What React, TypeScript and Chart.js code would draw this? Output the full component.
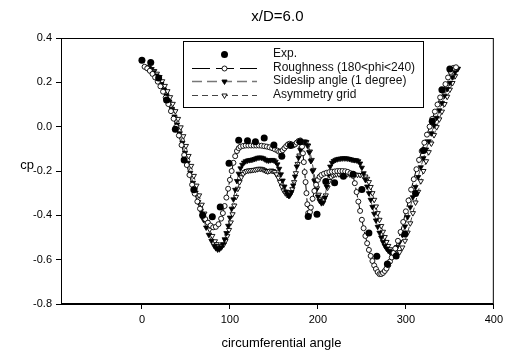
import React, { useEffect, useRef } from "react";
import { Chart, registerables } from "chart.js";

Chart.register(...registerables);

const FONT = "'Liberation Sans', Arial, Helvetica, sans-serif";

const chartTitle = "x/D=6.0";
const xTitle = "circumferential angle";
const yTitle = "cp";
const xTicks = [0, 100, 200, 300, 400];
const yTicks = [0.4, 0.2, 0.0, -0.2, -0.4, -0.6, -0.8];
const xRange = [-92, 400];
const yRange = [-0.8, 0.4];
const legendLabels = ["Exp.", "Roughness (180<phi<240)", "Sideslip angle (1 degree)", "Asymmetry grid"];

// [angle, cp]
const expData = [
  [0, 0.3], [10, 0.29], [19, 0.22], [28, 0.12], [38, -0.012], [48, -0.15], [59, -0.285], [69, -0.4],
  [80, -0.406], [89, -0.362], [99, -0.165], [110, -0.061], [120, -0.063], [129, -0.068], [139, -0.051],
  [150, -0.083], [159, -0.133], [169, -0.085], [180, -0.068], [189, -0.405], [199, -0.395], [209, -0.247],
  [219, -0.253], [229, -0.224], [240, -0.215], [250, -0.284], [258, -0.48], [267, -0.585], [279, -0.62],
  [289, -0.583], [299, -0.484], [311, -0.302], [320, -0.108], [330, 0.024], [341, 0.167], [350, 0.26],
];

const roughnessData = [
  [3, 0.27], [6, 0.263], [9, 0.252], [12, 0.238], [15, 0.222], [18, 0.203], [21, 0.182], [24, 0.158],
  [27, 0.131], [30, 0.102], [33, 0.07], [36, 0.036], [39, 0.0], [42, -0.04], [45, -0.083], [48, -0.128],
  [51, -0.173], [54, -0.218], [57, -0.262], [60, -0.302], [63, -0.338], [66, -0.37], [69, -0.396],
  [72, -0.417], [75, -0.433], [78, -0.446], [81, -0.454], [84, -0.452], [87, -0.44], [90, -0.415],
  [92, -0.39], [94, -0.358], [96, -0.32], [98, -0.28], [100, -0.24], [102, -0.2], [104, -0.163],
  [106, -0.133], [108, -0.11], [110, -0.097], [112, -0.09], [115, -0.087], [118, -0.085], [121, -0.085],
  [124, -0.085], [127, -0.085], [130, -0.085], [133, -0.085], [136, -0.086], [139, -0.088], [142, -0.09],
  [145, -0.093], [148, -0.097], [151, -0.102], [154, -0.108], [156, -0.113], [158, -0.113], [160, -0.106],
  [162, -0.097], [164, -0.088], [166, -0.08], [168, -0.077], [170, -0.08], [172, -0.084], [174, -0.08],
  [176, -0.072], [178, -0.065], [180, -0.062], [181, -0.07], [182, -0.09], [183, -0.12], [184, -0.16],
  [185, -0.205], [186, -0.25], [187, -0.3], [188, -0.35], [189, -0.39], [190, -0.398], [191, -0.385],
  [192, -0.365], [194, -0.325], [196, -0.29], [198, -0.262], [200, -0.24], [202, -0.226], [204, -0.218],
  [207, -0.212], [210, -0.208], [213, -0.205], [216, -0.203], [219, -0.202], [222, -0.2], [225, -0.2],
  [228, -0.2], [231, -0.201], [234, -0.204], [237, -0.21], [240, -0.222], [242, -0.255], [244, -0.295],
  [246, -0.338], [248, -0.38], [250, -0.42], [252, -0.458], [254, -0.493], [256, -0.526], [258, -0.556],
  [260, -0.583], [262, -0.606], [264, -0.626], [266, -0.642], [268, -0.656], [270, -0.665], [272, -0.665],
  [274, -0.66], [276, -0.651], [278, -0.64], [280, -0.625], [282, -0.608], [284, -0.59], [286, -0.57],
  [288, -0.55], [291, -0.515], [294, -0.475], [297, -0.43], [300, -0.382], [303, -0.333], [306, -0.284],
  [309, -0.237], [312, -0.192], [315, -0.15], [318, -0.11], [321, -0.072], [324, -0.036], [327, 0.0],
  [330, 0.035], [333, 0.068], [336, 0.1], [339, 0.132], [342, 0.162], [345, 0.192], [348, 0.222],
  [351, 0.247], [354, 0.265], [357, 0.268],
];

const sideslipData = [
  [4, 0.27], [7, 0.266], [10, 0.258], [13, 0.246], [16, 0.231], [19, 0.213], [22, 0.192], [25, 0.168],
  [28, 0.141], [31, 0.112], [34, 0.08], [37, 0.046], [40, 0.01], [43, -0.03], [46, -0.073], [49, -0.118],
  [52, -0.163], [55, -0.208], [58, -0.253], [61, -0.297], [64, -0.34], [67, -0.38], [70, -0.42],
  [73, -0.455], [76, -0.488], [79, -0.515], [82, -0.537], [84, -0.548], [86, -0.554], [88, -0.553],
  [90, -0.545], [92, -0.53], [94, -0.508], [96, -0.48], [98, -0.447], [100, -0.41], [102, -0.37],
  [104, -0.328], [106, -0.285], [108, -0.245], [110, -0.212], [112, -0.188], [114, -0.172], [116, -0.162],
  [118, -0.156], [120, -0.153], [122, -0.151], [124, -0.15], [126, -0.148], [128, -0.146], [130, -0.143],
  [132, -0.14], [134, -0.139], [136, -0.14], [138, -0.143], [140, -0.148], [142, -0.152], [144, -0.153],
  [146, -0.151], [148, -0.15], [150, -0.152], [152, -0.158], [154, -0.17], [156, -0.19], [158, -0.215],
  [160, -0.243], [162, -0.27], [164, -0.293], [166, -0.308], [167, -0.312], [168, -0.31], [170, -0.295],
  [172, -0.265], [174, -0.225], [176, -0.18], [178, -0.14], [180, -0.105], [182, -0.08], [184, -0.067],
  [186, -0.068], [188, -0.085], [190, -0.115], [192, -0.155], [194, -0.2], [196, -0.245], [198, -0.285],
  [200, -0.315], [202, -0.335], [204, -0.345], [206, -0.343], [208, -0.32], [210, -0.27], [212, -0.215],
  [214, -0.18], [216, -0.163], [218, -0.155], [220, -0.15], [222, -0.147], [224, -0.145], [226, -0.144],
  [228, -0.143], [230, -0.143], [232, -0.143], [234, -0.144], [236, -0.146], [238, -0.148], [240, -0.15],
  [242, -0.151], [244, -0.152], [246, -0.156], [248, -0.166], [250, -0.185], [252, -0.21], [254, -0.24],
  [256, -0.27], [258, -0.3], [260, -0.33], [262, -0.362], [264, -0.393], [266, -0.423], [268, -0.452],
  [270, -0.478], [272, -0.5], [274, -0.52], [276, -0.537], [278, -0.55], [280, -0.56], [282, -0.566],
  [284, -0.568], [286, -0.565], [288, -0.556], [290, -0.543], [293, -0.52], [296, -0.488], [299, -0.45],
  [302, -0.408], [305, -0.364], [308, -0.318], [311, -0.272], [314, -0.227], [317, -0.183], [320, -0.142],
  [323, -0.103], [326, -0.066], [329, -0.03], [332, 0.005], [335, 0.04], [338, 0.074], [341, 0.107],
  [344, 0.14], [347, 0.17], [350, 0.198], [353, 0.223], [356, 0.245], [359, 0.262],
];

const asymmetryData = [
  [5, 0.268], [8, 0.265], [11, 0.26], [14, 0.251], [17, 0.239], [20, 0.224], [23, 0.205], [26, 0.184],
  [29, 0.16], [32, 0.133], [35, 0.103], [38, 0.07], [41, 0.035], [44, -0.003], [47, -0.043], [50, -0.087],
  [53, -0.132], [56, -0.177], [59, -0.222], [62, -0.266], [65, -0.31], [68, -0.352], [71, -0.392],
  [74, -0.43], [77, -0.464], [80, -0.493], [83, -0.517], [85, -0.53], [87, -0.538], [89, -0.542],
  [91, -0.54], [93, -0.532], [95, -0.516], [97, -0.494], [99, -0.466], [101, -0.432], [103, -0.395],
  [105, -0.356], [107, -0.317], [109, -0.28], [111, -0.25], [113, -0.228], [115, -0.213], [117, -0.205],
  [119, -0.2], [121, -0.198], [123, -0.197], [125, -0.196], [127, -0.195], [129, -0.194], [131, -0.192],
  [133, -0.19], [135, -0.19], [137, -0.192], [139, -0.196], [141, -0.2], [143, -0.202], [145, -0.2],
  [147, -0.198], [149, -0.2], [151, -0.205], [153, -0.215], [155, -0.23], [157, -0.25], [159, -0.27],
  [161, -0.288], [163, -0.3], [165, -0.308], [167, -0.31], [169, -0.302], [171, -0.282], [173, -0.25],
  [175, -0.21], [177, -0.168], [179, -0.13], [181, -0.098], [183, -0.078], [185, -0.068], [187, -0.07],
  [189, -0.085], [191, -0.112], [193, -0.15], [195, -0.195], [197, -0.24], [199, -0.278], [201, -0.307],
  [203, -0.325], [205, -0.333], [207, -0.33], [209, -0.31], [211, -0.275], [213, -0.245], [215, -0.228],
  [217, -0.22], [219, -0.216], [221, -0.215], [224, -0.215], [227, -0.215], [230, -0.215], [233, -0.215],
  [236, -0.215], [239, -0.215], [242, -0.216], [245, -0.217], [248, -0.218], [251, -0.22], [254, -0.225],
  [256, -0.235], [258, -0.25], [260, -0.272], [262, -0.3], [264, -0.33], [266, -0.36], [268, -0.39],
  [270, -0.42], [272, -0.448], [274, -0.474], [276, -0.498], [278, -0.52], [280, -0.538], [282, -0.553],
  [284, -0.565], [286, -0.573], [288, -0.577], [290, -0.576], [293, -0.566], [296, -0.545], [299, -0.515],
  [302, -0.478], [305, -0.436], [308, -0.39], [311, -0.342], [314, -0.294], [317, -0.246], [320, -0.2],
  [323, -0.156], [326, -0.115], [329, -0.076], [332, -0.038], [335, -0.002], [338, 0.033], [341, 0.068],
  [344, 0.102], [347, 0.135], [350, 0.167], [353, 0.197], [356, 0.228], [359, 0.26],
];

const toPoints = (rows: number[][]) => rows.map(([x, y]) => ({ x, y }));

function drawMarker(ctx: CanvasRenderingContext2D, kind: string, x: number, y: number) {
  ctx.save();
  ctx.setLineDash([]);
  ctx.lineWidth = 0.9;
  ctx.strokeStyle = "#000";
  ctx.beginPath();
  if (kind === "dot") {
    ctx.arc(x, y, 3.5, 0, Math.PI * 2);
    ctx.fillStyle = "#000";
    ctx.fill();
  } else if (kind === "circle") {
    ctx.arc(x, y, 2.5, 0, Math.PI * 2);
    ctx.fillStyle = "#fff";
    ctx.fill();
    ctx.stroke();
  } else {
    const r = 3;
    ctx.moveTo(x, y + r);
    ctx.lineTo(x + r * Math.sin((2 * Math.PI) / 3), y - r / 2);
    ctx.lineTo(x - r * Math.sin((2 * Math.PI) / 3), y - r / 2);
    ctx.closePath();
    ctx.fillStyle = kind === "tri-filled" ? "#000" : "#fff";
    ctx.fill();
    ctx.stroke();
  }
  ctx.restore();
}

const decorPlugin = {
  id: "decor",
  afterDraw(chart: any) {
    const { ctx, chartArea: ca } = chart;
    ctx.save();
    // frame
    ctx.strokeStyle = "#000";
    ctx.lineWidth = 1;
    ctx.setLineDash([]);
    ctx.strokeRect(ca.left + 0.5, ca.top + 0.5, ca.right - ca.left - 1, ca.bottom - ca.top - 1);

    // titles
    ctx.fillStyle = "#000";
    ctx.textAlign = "center";
    ctx.textBaseline = "middle";
    ctx.font = `15px ${FONT}`;
    ctx.fillText(chartTitle, (ca.left + ca.right) / 2, 17);
    ctx.font = `13px ${FONT}`;
    ctx.fillText(xTitle, (ca.left + ca.right) / 2 + 4, 343);
    ctx.fillText(yTitle, 27, 165);

    // legend
    const x0 = ca.left + 122;
    const y0 = ca.top + 3;
    const w = 240;
    const h = 66;
    ctx.fillStyle = "#fff";
    ctx.fillRect(x0, y0, w, h);
    ctx.strokeStyle = "#000";
    ctx.lineWidth = 1;
    ctx.strokeRect(x0 + 0.5, y0 + 0.5, w, h);
    const rows = [13, 26.5, 40, 53.5];
    const sx0 = x0 + 9;
    const sx1 = x0 + 74;
    const mx = x0 + 41.5;
    const styles = [
      { dash: null, color: "#000", lw: 1, marker: "dot" },
      { dash: [18, 6], color: "#000", lw: 1, marker: "circle" },
      { dash: [10, 5], color: "#777", lw: 1.5, marker: "tri-filled" },
      { dash: [6, 4], color: "#444", lw: 1, marker: "tri-open" },
    ];
    styles.forEach((s, i) => {
      const y = y0 + rows[i];
      if (s.dash) {
        ctx.save();
        ctx.strokeStyle = s.color;
        ctx.lineWidth = s.lw;
        ctx.setLineDash(s.dash);
        ctx.beginPath();
        ctx.moveTo(sx0, Math.round(y) + 0.5);
        ctx.lineTo(sx1, Math.round(y) + 0.5);
        ctx.stroke();
        ctx.restore();
      }
      drawMarker(ctx, s.marker, mx, Math.round(y) + 0.5);
      ctx.fillStyle = "#111";
      ctx.textAlign = "left";
      ctx.textBaseline = "middle";
      ctx.font = `12px ${FONT}`;
      ctx.fillText(legendLabels[i], x0 + 90, y);
    });
    ctx.restore();
  },
};

export default function App() {
  const ref = useRef<HTMLCanvasElement | null>(null);

  useEffect(() => {
    if (!ref.current) return;
    const chart = new Chart(ref.current, {
      type: "scatter",
      data: {
        datasets: [
          {
            label: legendLabels[0],
            data: toPoints(expData),
            showLine: false,
            pointStyle: "circle",
            pointRadius: 3.5,
            pointBackgroundColor: "#000",
            pointBorderColor: "#000",
            pointBorderWidth: 0,
          },
          {
            label: legendLabels[1],
            data: toPoints(roughnessData),
            showLine: true,
            borderColor: "#000",
            borderWidth: 1,
            borderDash: [10, 5],
            pointStyle: "circle",
            pointRadius: 2.5,
            pointBackgroundColor: "#fff",
            pointBorderColor: "#000",
            pointBorderWidth: 0.9,
          },
          {
            label: legendLabels[2],
            data: toPoints(sideslipData),
            showLine: true,
            borderColor: "#555",
            borderWidth: 1,
            borderDash: [10, 5],
            pointStyle: "triangle",
            pointRotation: 180,
            pointRadius: 3,
            pointBackgroundColor: "#000",
            pointBorderColor: "#000",
            pointBorderWidth: 0.8,
          },
          {
            label: legendLabels[3],
            data: toPoints(asymmetryData),
            showLine: true,
            borderColor: "#444",
            borderWidth: 1,
            borderDash: [6, 4],
            pointStyle: "triangle",
            pointRotation: 180,
            pointRadius: 3,
            pointBackgroundColor: "#fff",
            pointBorderColor: "#000",
            pointBorderWidth: 0.9,
          },
        ],
      },
      options: {
        responsive: false,
        animation: false,
        events: [],
        layout: { padding: { left: 0, right: 13, top: 38, bottom: 0 } },
        plugins: {
          legend: { display: false },
          title: { display: false },
          tooltip: { enabled: false },
        },
        scales: {
          x: {
            type: "linear",
            min: xRange[0],
            max: xRange[1],
            afterBuildTicks: (scale: any) => {
              scale.ticks = xTicks.map((v) => ({ value: v }));
            },
            afterFit: (scale: any) => {
              scale.height = 50;
            },
            grid: {
              display: true,
              drawOnChartArea: false,
              drawTicks: true,
              tickLength: 5,
              color: "#000",
            },
            border: { display: true, color: "#000" },
            ticks: {
              color: "#000",
              padding: 4,
              maxRotation: 0,
              font: { family: FONT, size: 11 },
              callback: (v: any) => String(v),
            },
          },
          y: {
            type: "linear",
            min: yRange[0],
            max: yRange[1],
            afterBuildTicks: (scale: any) => {
              scale.ticks = yTicks.map((v) => ({ value: v }));
            },
            afterFit: (scale: any) => {
              scale.width = 61;
            },
            grid: {
              display: true,
              drawOnChartArea: false,
              drawTicks: true,
              tickLength: 5,
              color: "#000",
            },
            border: { display: true, color: "#000" },
            ticks: {
              color: "#000",
              padding: 4,
              font: { family: FONT, size: 11 },
              callback: (v: any) => Number(v).toFixed(1),
            },
          },
        },
      },
      plugins: [decorPlugin],
    } as any);
    return () => chart.destroy();
  }, []);

  return (
    <div style={{ position: "absolute", left: 0, top: 0, width: 507, height: 354, background: "#fff" }}>
      <canvas ref={ref} width={507} height={354} style={{ display: "block", width: 507, height: 354 }} />
    </div>
  );
}
